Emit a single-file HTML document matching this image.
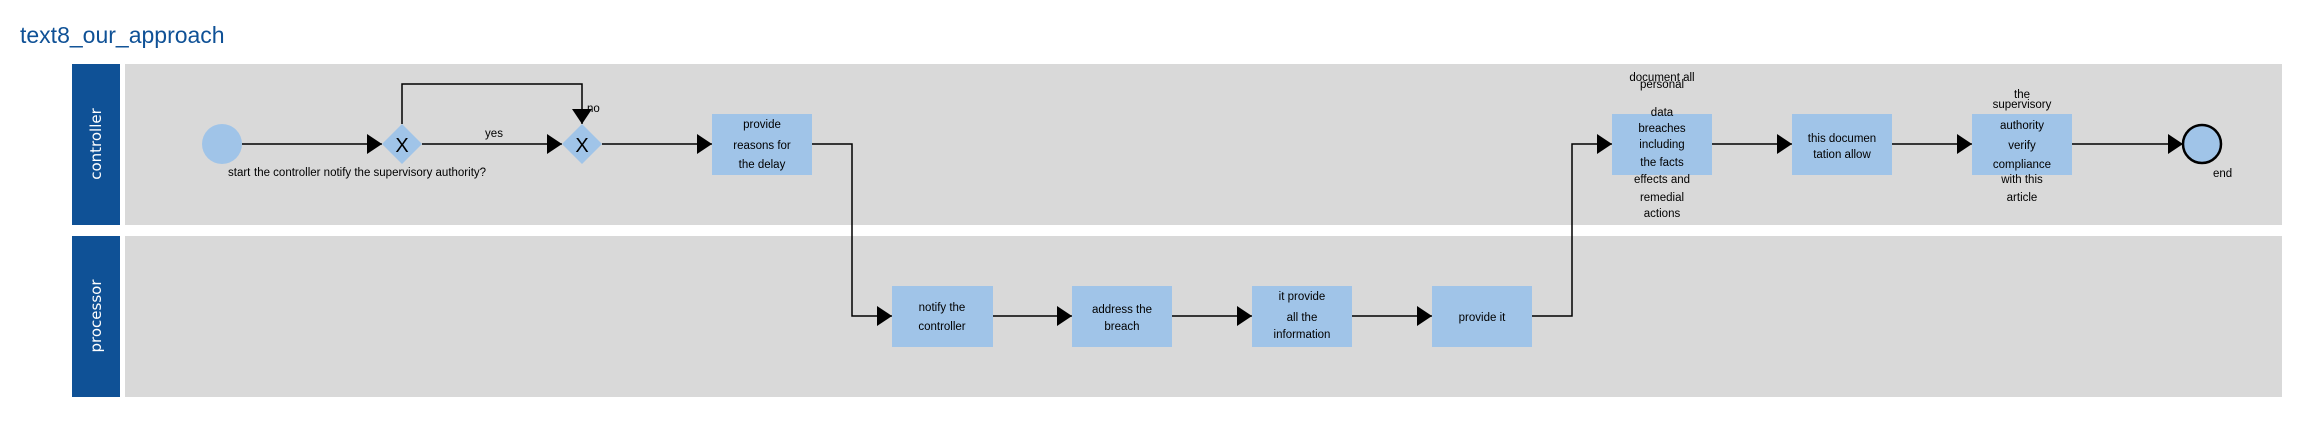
<!DOCTYPE html>
<html><head><meta charset="utf-8"><style>
html,body{margin:0;padding:0;background:#fff;}
svg{display:block;}
text{font-family:"Liberation Sans",Arial,sans-serif;font-size:11.5px;fill:#000;}
</style></head><body>
<svg width="2299" height="438" viewBox="0 0 2299 438" xmlns="http://www.w3.org/2000/svg">
<defs>
<marker id="a" markerWidth="15" markerHeight="20" refX="15" refY="10" orient="auto" markerUnits="userSpaceOnUse">
<path d="M0,0 L15,10 L0,20 Z" fill="#000"/></marker>
</defs>
<text x="20" y="43" style="font-size:23px;fill:#0f5196">text8_our_approach</text>
<!-- lanes -->
<rect x="72" y="64" width="48" height="161" fill="#0f5196"/>
<rect x="125" y="64" width="2157" height="161" fill="#d9d9d9"/>
<rect x="72" y="236" width="48" height="161" fill="#0f5196"/>
<rect x="125" y="236" width="2157" height="161" fill="#d9d9d9"/>
<text transform="translate(101,144) rotate(-90)" text-anchor="middle" style="font-family:'DejaVu Sans',sans-serif;font-size:15px;fill:#fff">controller</text>
<text transform="translate(101,316) rotate(-90)" text-anchor="middle" style="font-family:'DejaVu Sans',sans-serif;font-size:15px;fill:#fff">processor</text>
<!-- start -->
<circle cx="222" cy="144" r="20" fill="#a0c4e8"/>
<text x="228" y="176">start</text>
<text x="254" y="176">the controller notify the supervisory authority?</text>
<!-- gateways -->
<polygon points="402,124 422,144 402,164 382,144" fill="#a0c4e8"/>
<text x="402" y="152" text-anchor="middle" style="font-size:20px">X</text>
<polygon points="582,124 602,144 582,164 562,144" fill="#a0c4e8"/>
<text x="582" y="152" text-anchor="middle" style="font-size:20px">X</text>
<g stroke="#000" stroke-width="1.5" fill="none">
<line x1="242" y1="144" x2="382" y2="144" marker-end="url(#a)"/>
<line x1="422" y1="144" x2="562" y2="144" marker-end="url(#a)"/>
<polyline points="402,124 402,84 582,84 582,124" marker-end="url(#a)"/>
<line x1="602" y1="144" x2="712" y2="144" marker-end="url(#a)"/>
<polyline points="812,144 852,144 852,316 892,316" marker-end="url(#a)"/>
<line x1="993" y1="316" x2="1072" y2="316" marker-end="url(#a)"/>
<line x1="1172" y1="316" x2="1252" y2="316" marker-end="url(#a)"/>
<line x1="1352" y1="316" x2="1432" y2="316" marker-end="url(#a)"/>
<polyline points="1532,316 1572,316 1572,144 1612,144" marker-end="url(#a)"/>
<line x1="1712" y1="144" x2="1792" y2="144" marker-end="url(#a)"/>
<line x1="1892" y1="144" x2="1972" y2="144" marker-end="url(#a)"/>
<line x1="2072" y1="144" x2="2183" y2="144" marker-end="url(#a)"/>
</g>
<text x="494" y="137" text-anchor="middle">yes</text>
<text x="587" y="112">no</text>
<!-- boxes -->
<g fill="#a0c4e8">
<rect x="712" y="114" width="100" height="61"/>
<rect x="1612" y="114" width="100" height="61"/>
<rect x="1792" y="114" width="100" height="61"/>
<rect x="1972" y="114" width="100" height="61"/>
<rect x="892" y="286" width="101" height="61"/>
<rect x="1072" y="286" width="100" height="61"/>
<rect x="1252" y="286" width="100" height="61"/>
<rect x="1432" y="286" width="100" height="61"/>
</g>
<g text-anchor="middle">
<text x="762" y="128">provide</text><text x="762" y="149">reasons for</text><text x="762" y="168">the delay</text>
<text x="1662" y="81">document all</text><text x="1662" y="88">personal</text>
<text x="1662" y="116">data</text><text x="1662" y="132">breaches</text><text x="1662" y="148">including</text><text x="1662" y="166">the facts</text><text x="1662" y="183">effects and</text><text x="1662" y="201">remedial</text><text x="1662" y="217">actions</text>
<text x="1842" y="142">this documen</text><text x="1842" y="158">tation allow</text>
<text x="2022" y="98">the</text><text x="2022" y="108">supervisory</text><text x="2022" y="129">authority</text><text x="2022" y="149">verify</text><text x="2022" y="168">compliance</text><text x="2022" y="183">with this</text><text x="2022" y="201">article</text>
<text x="942" y="311">notify the</text><text x="942" y="330">controller</text>
<text x="1122" y="313">address the</text><text x="1122" y="330">breach</text>
<text x="1302" y="300">it provide</text><text x="1302" y="321">all the</text><text x="1302" y="338">information</text>
<text x="1482" y="321">provide it</text>
</g>
<circle cx="2202" cy="144" r="19" fill="#a0c4e8" stroke="#000" stroke-width="2.5"/>
<text x="2213" y="177">end</text>
</svg>
</body></html>
